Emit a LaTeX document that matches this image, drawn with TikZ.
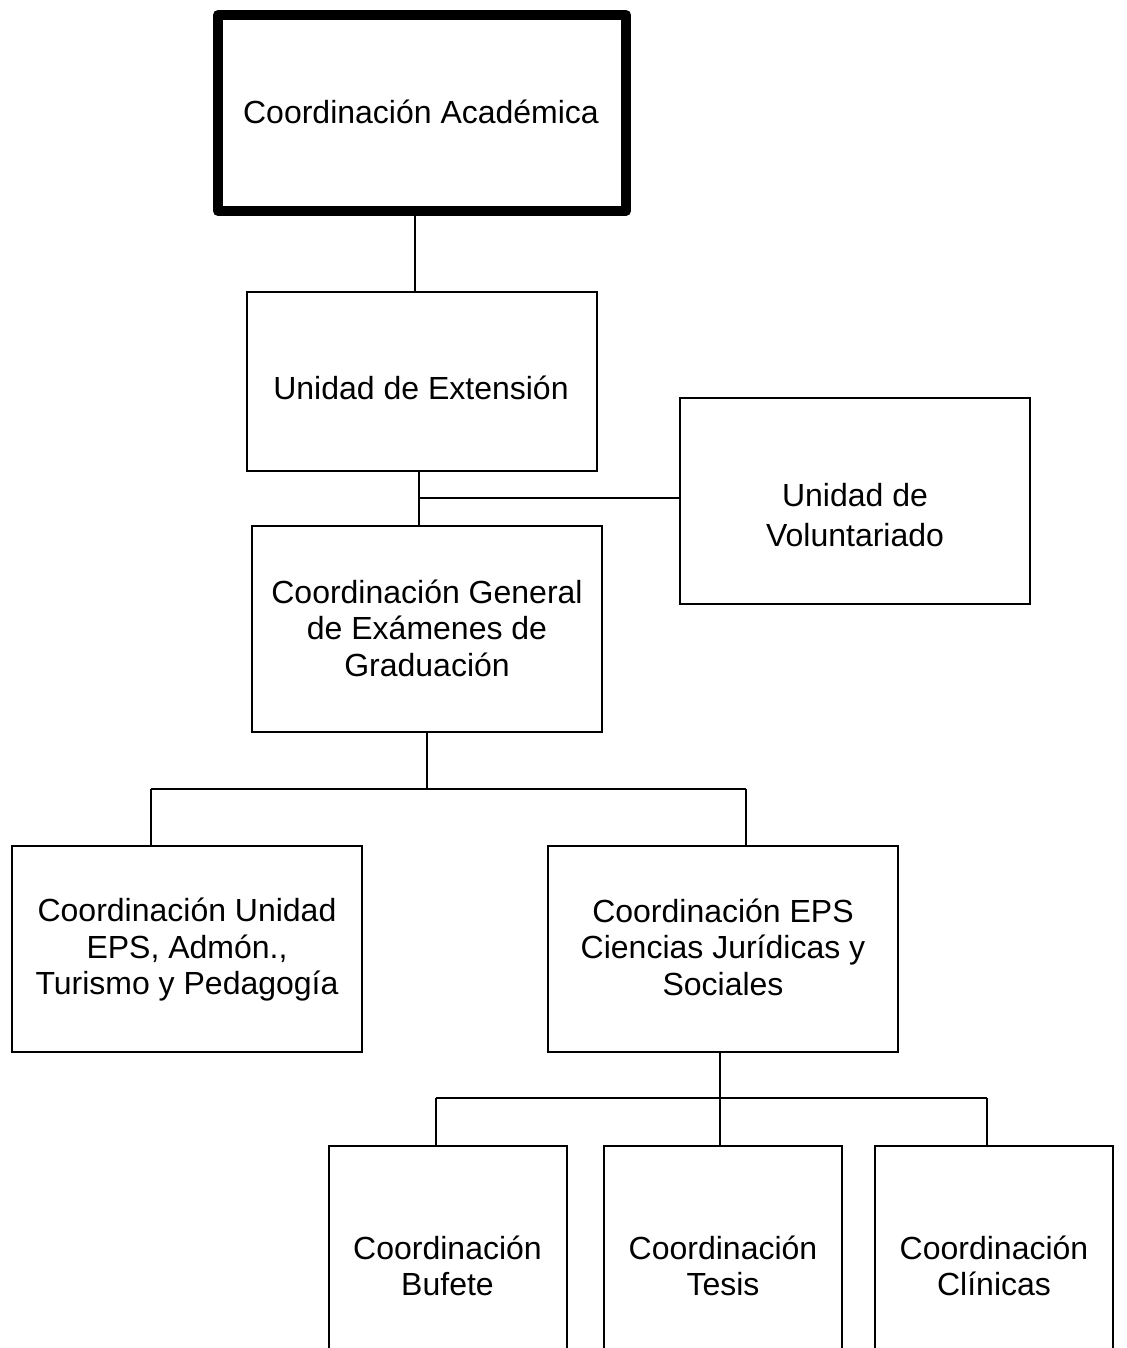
\documentclass[tikz,border=0pt]{standalone}
\usepackage{fontspec}
\setmainfont{Liberation Sans}
\begin{document}
\begin{tikzpicture}[x=0.5pt,y=-0.5pt,
  box/.style={draw,line width=1pt,rectangle,inner sep=0pt,minimum width=175pt,minimum height=103pt},
  smallbox/.style={draw,line width=1pt,rectangle,inner sep=0pt,minimum width=119pt,minimum height=125pt},
  lbl/.style={font=\fontsize{16}{18.25}\selectfont,align=center,inner sep=0pt},
  conn/.style={line width=1pt}]
\useasboundingbox (0,0) rectangle (1126,1348);
\clip (0,0) rectangle (1126,1348);
% boxes
\node[box,line width=5pt,line join=round,minimum width=204pt,minimum height=98pt] (top) at (422,113) {};
\node[box,minimum height=89.5pt] (ext) at (422,381.5) {};
\node[box] (vol) at (855,501) {};
\node[box] (gen) at (427,629) {};
\node[box] (ueps) at (187,949) {};
\node[box] (cjs) at (723,949) {};
\node[smallbox] (bu) at (447.5,1271) {};
\node[smallbox] (te) at (723,1271) {};
\node[smallbox] (cl) at (994,1271) {};
% texts
\node[lbl] (topt) at (421,112) {Coordinación Académica};
\node[lbl] (extt) at (421,388) {Unidad de Extensión};
\node[lbl,font=\fontsize{16}{20}\selectfont] (volt) at (855,515) {Unidad de\\Voluntariado};
\node[lbl] (gent) at (427,628) {Coordinación General\\de Exámenes de\\Graduación};
\node[lbl] (uepst) at (187,950) {Coordinación Unidad\\EPS, Admón.,\\Turismo y Pedagogía};
\node[lbl] (cjst) at (723,947) {Coordinación EPS\\Ciencias Jurídicas y\\Sociales};
\node[lbl] (but) at (447.5,1266) {Coordinación\\Bufete};
\node[lbl] (tet) at (723,1266) {Coordinación\\Tesis};
\node[lbl] (clt) at (994,1266) {Coordinación\\Clínicas};
% connectors
\coordinate (m0) at ([xshift=-3.5pt]top.south);
\draw[conn] (m0) -- (m0 |- ext.north);
\coordinate (m1) at ([xshift=-1.5pt]ext.south);
\coordinate (j1) at (419,498);
\draw[conn] (m1) -- (m1 |- gen.north);
\draw[conn] (j1) -- (j1 -| vol.west);
\coordinate (bL) at (151,789);
\coordinate (bR) at (746,789);
\draw[conn] (gen.south) -- (gen.south |- bL);
\draw[conn] (bL) -- (bR);
\draw[conn] (bL) -- (bL |- ueps.north);
\draw[conn] (bR) -- (bR |- cjs.north);
\coordinate (m2) at ([xshift=-1.5pt]cjs.south);
\coordinate (cL) at (436,1098);
\coordinate (cR) at (987,1098);
\draw[conn] (m2) -- (m2 |- te.north);
\draw[conn] (cL) -- (cR);
\draw[conn] (cL) -- (cL |- bu.north);
\draw[conn] (cR) -- (cR |- cl.north);
\end{tikzpicture}
\end{document}
